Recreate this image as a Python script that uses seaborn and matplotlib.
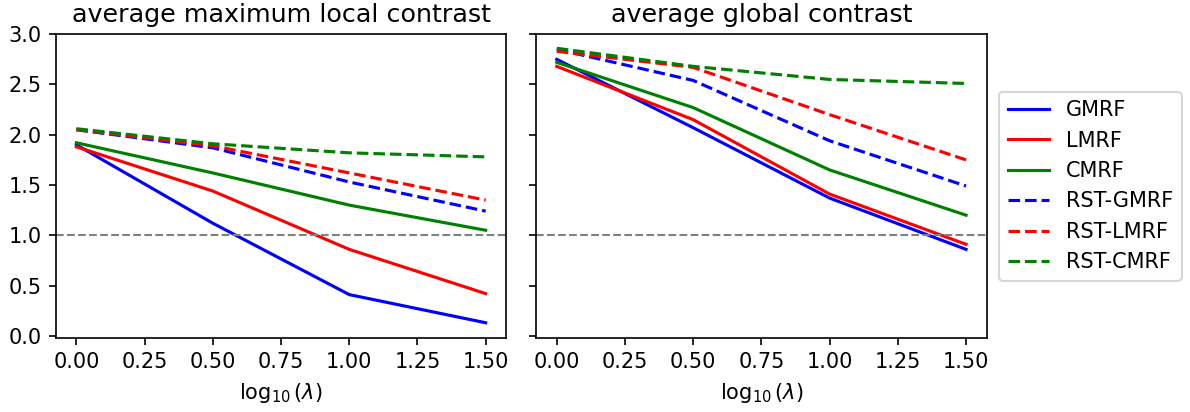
import numpy as np
import pandas as pd
import matplotlib
matplotlib.use("Agg")
import matplotlib.pyplot as plt
import seaborn as sns

x_vals = [0.0, 0.5, 1.0, 1.5]
methods = ["GMRF", "LMRF", "CMRF", "RST-GMRF", "RST-LMRF", "RST-CMRF"]
colors = ["blue", "red", "green", "blue", "red", "green"]
dashed = [False, False, False, True, True, True]

local_gmrf = [1.90, 1.12, 0.41, 0.13]
local_lmrf = [1.88, 1.44, 0.86, 0.42]
local_cmrf = [1.92, 1.62, 1.30, 1.05]
local_rst_gmrf = [2.05, 1.87, 1.53, 1.24]
local_rst_lmrf = [2.05, 1.89, 1.62, 1.35]
local_rst_cmrf = [2.06, 1.91, 1.82, 1.78]

global_gmrf = [2.75, 2.07, 1.37, 0.86]
global_lmrf = [2.68, 2.15, 1.41, 0.91]
global_cmrf = [2.72, 2.27, 1.65, 1.20]
global_rst_gmrf = [2.85, 2.54, 1.94, 1.49]
global_rst_lmrf = [2.83, 2.67, 2.20, 1.75]
global_rst_cmrf = [2.86, 2.68, 2.55, 2.51]

local_data = [local_gmrf, local_lmrf, local_cmrf, local_rst_gmrf, local_rst_lmrf, local_rst_cmrf]
global_data = [global_gmrf, global_lmrf, global_cmrf, global_rst_gmrf, global_rst_lmrf, global_rst_cmrf]
titles = ["average maximum local contrast", "average global contrast"]

plt.rcParams["font.family"] = ["DejaVu Sans"]

dpi = 150
fig, axes = plt.subplots(1, 2, figsize=(1190 / dpi, 412 / dpi), dpi=dpi, sharey=True)
for ax, data, title in zip(axes, [local_data, global_data], titles):
    for name, vals, c, d in zip(methods, data, colors, dashed):
        df = pd.DataFrame({"x": x_vals, "y": vals})
        sns.lineplot(data=df, x="x", y="y", ax=ax, color=c, linewidth=1.5,
                     linestyle="--" if d else "-", label=name, legend=False)
    ax.axhline(1.0, color="gray", linestyle="--", linewidth=1.0)
    ax.set_title(title, fontsize=12.2)
    ax.set_xlabel(r"$\log_{10}(\lambda)$")
    ax.set_ylabel("")
    ax.set_xticks([0, 0.25, 0.5, 0.75, 1.0, 1.25, 1.5])
    ax.set_xticklabels(["0.00", "0.25", "0.50", "0.75", "1.00", "1.25", "1.50"])
    ax.set_ylim(-0.02, 3.0)
axes[0].set_yticks(np.arange(0, 3.01, 0.5))
handles, labels = axes[0].get_legend_handles_labels()
fig.legend(handles, labels, loc="center left", bbox_to_anchor=(0.831, 0.548))
fig.subplots_adjust(left=0.047, right=0.829, bottom=0.18, top=0.917, wspace=0.067)
fig.savefig("out.png", dpi=dpi)
